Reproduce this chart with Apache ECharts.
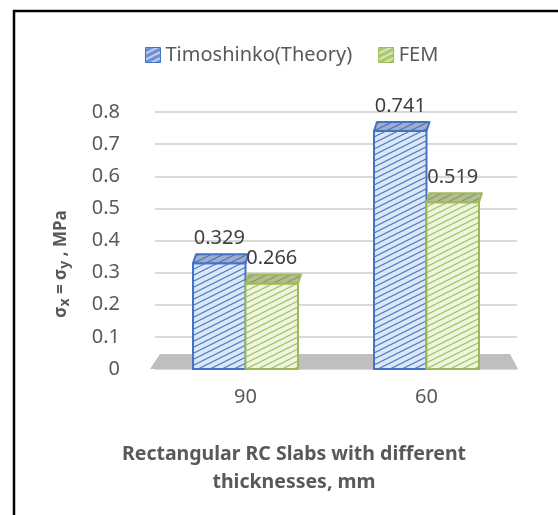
<!DOCTYPE html>
<html><head><meta charset="utf-8">
<script src="https://cdn.jsdelivr.net/npm/echarts@6/dist/echarts.min.js"></script>
<style>html,body{margin:0;padding:0;background:#fff}#c{width:558px;height:515px}</style>
</head><body><div id="c"></div>
<script>
const categories = ['90', '60'];
const seriesNames = ['Timoshinko(Theory)', 'FEM'];
const theoryValues = [0.329, 0.741];
const femValues = [0.266, 0.519];
const yAxisTitle = '{a|σ}{s|x}{a| = σ}{s|y}{a| , MPa}';
const xAxisTitle = 'Rectangular RC Slabs with different\nthicknesses, mm';

const FONT = 'Noto Sans';
const TXT = '#595959';

function hatch(bg, line, w) {
  const c = document.createElement('canvas');
  c.width = 12; c.height = 6;
  const g = c.getContext('2d');
  g.fillStyle = bg; g.fillRect(0, 0, 12, 6);
  g.strokeStyle = line; g.lineWidth = w || 1.2;
  g.beginPath();
  for (let k = -1; k <= 1; k++) {
    g.moveTo(-2, 6 + 1 + k * 6);
    g.lineTo(14, 6 - 7 + k * 6);
  }
  g.stroke();
  return { image: c, repeat: 'repeat' };
}

const styles = [
  { stroke: '#4472C4', front: hatch('#dce8f7', '#5680c6'), top: hatch('#9aaed2', '#5b74a8'), icon: hatch('#6d92d3', '#e8effa', 1.4) },
  { stroke: '#9BBB59', front: hatch('#eef5df', '#a5c368'), top: hatch('#b5bc92', '#8c9a5e'), icon: hatch('#a9c96f', '#f2f7e8', 1.4) }
];

function barRender(idx) {
  const st = styles[idx];
  return function (params, api) {
    const ci = api.value(0), v = api.value(1);
    const base = api.coord([ci, 0]);
    const top = api.coord([ci, v]);
    const band = api.size([1, 0])[0];
    const bw = band * 0.29;
    const x0 = idx === 0 ? base[0] - bw : base[0];
    const x1 = x0 + bw;
    const yt = top[1], yb = base[1];
    const dx = 3, dy = 9;
    return {
      type: 'group',
      children: [
        { type: 'rect', shape: { x: x0, y: yt, width: bw, height: yb - yt },
          style: { fill: st.front, stroke: st.stroke, lineWidth: 2 } },
        { type: 'polygon', shape: { points: [[x0, yt], [x1, yt], [x1 + dx, yt - dy], [x0 + dx, yt - dy]] },
          style: { fill: st.top, stroke: st.stroke, lineWidth: 2, lineJoin: 'round' } },
        { type: 'text', x: (x0 + x1) / 2, y: yt - 25,
          style: { text: String(v), fill: '#404040', fontSize: 20, fontFamily: FONT, align: 'center', verticalAlign: 'middle' } }
      ]
    };
  };
}

function floorRender(params, api) {
  const cs = params.coordSys;
  const y0 = api.coord([0, 0])[1];
  const L = cs.x, R = cs.x + cs.width;
  return {
    type: 'polygon',
    shape: { points: [[L - 5, y0], [L + 5, y0 - 15], [R - 7, y0 - 15], [R + 1, y0]] },
    style: { fill: '#bfbfbf' }
  };
}

const chart = echarts.init(document.getElementById('c'), null, { renderer: 'canvas' });
chart.setOption({
  backgroundColor: '#fff',
  animation: false,
  textStyle: { fontFamily: FONT },
  title: {
    text: xAxisTitle, left: 289, top: 435, textAlign: 'center',
    textStyle: { fontFamily: FONT, fontSize: 19.5, fontWeight: 'bold', color: TXT, lineHeight: 28 }
  },
  legend: {
    left: 140, top: 40, itemWidth: 15, itemHeight: 15, itemGap: 26,
    textStyle: { fontFamily: FONT, fontSize: 20, color: TXT },
    data: [
      { name: seriesNames[0], icon: 'rect', itemStyle: { color: styles[0].icon, borderColor: styles[0].stroke, borderWidth: 1 } },
      { name: seriesNames[1], icon: 'rect', itemStyle: { color: styles[1].icon, borderColor: styles[1].stroke, borderWidth: 1 } }
    ]
  },
  grid: { left: 155, right: 41, top: 112, bottom: 146 },
  xAxis: {
    type: 'category', data: categories,
    axisLine: { show: false }, axisTick: { show: false },
    axisLabel: { margin: 18, fontSize: 20, color: TXT, fontFamily: FONT }
  },
  yAxis: {
    type: 'value', min: 0, max: 0.8, interval: 0.1,
    axisLine: { show: false }, axisTick: { show: false },
    axisLabel: { margin: 35, fontSize: 20, color: TXT, fontFamily: FONT },
    splitLine: { lineStyle: { color: '#d9d9d9', width: 2 } }
  },
  graphic: [
    { type: 'polyline', shape: { points: [[14, 515], [14, 11], [558, 11]] }, style: { stroke: '#000', lineWidth: 2.5, fill: null } },
    { type: 'text', x: 61, y: 264, rotation: Math.PI / 2,
      style: { text: yAxisTitle, align: 'center', verticalAlign: 'middle', fill: TXT,
        rich: {
          a: { fontFamily: FONT, fontSize: 17, fontWeight: 'bold', fill: TXT, lineHeight: 22 },
          s: { fontFamily: FONT, fontSize: 14, fontWeight: 'bold', fill: TXT, lineHeight: 17, verticalAlign: 'bottom' }
        } } }
  ],
  series: [
    { type: 'custom', name: 'floor', renderItem: floorRender, data: [[0]], silent: true, z: 1 },
    { type: 'custom', name: seriesNames[0], renderItem: barRender(0), z: 2,
      itemStyle: { color: styles[0].front, borderColor: styles[0].stroke },
      data: theoryValues.map((v, i) => [i, v]), encode: { x: 0, y: 1 } },
    { type: 'custom', name: seriesNames[1], renderItem: barRender(1), z: 3,
      itemStyle: { color: styles[1].front, borderColor: styles[1].stroke },
      data: femValues.map((v, i) => [i, v]), encode: { x: 0, y: 1 } }
  ]
});
</script></body></html>
